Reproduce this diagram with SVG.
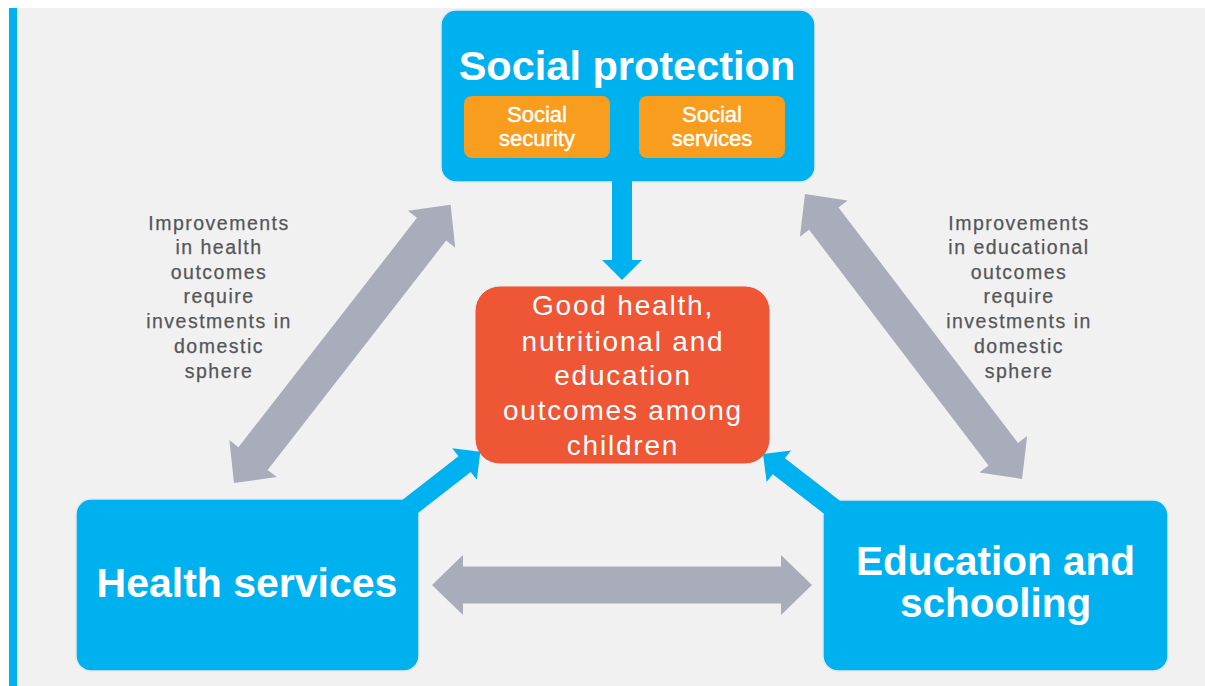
<svg xmlns="http://www.w3.org/2000/svg" width="1205" height="686" viewBox="0 0 1205 686">
  <defs>
    <style>
      .panel { fill: #f1f1f1; }
      .blue-box { fill: #00b1f0; stroke: #e4e8ec; stroke-width: 1.5; }
      .sub-box { fill: #f99d1e; }
      .core-box { fill: #ee5635; stroke: #ececec; stroke-width: 1; }
      .link-blue { fill: #00b1f0; }
      .link-grey { fill: #a9acba; }
      .title { font-family: "Liberation Sans", Arial, sans-serif; font-weight: bold; fill: #ffffff; text-anchor: middle; }
      .sub { font-family: "Liberation Sans", Arial, sans-serif; font-size: 22px; fill: #ffffff; stroke: #ffffff; stroke-width: 0.4px; text-anchor: middle; }
      .core { font-family: "Liberation Sans", Arial, sans-serif; font-size: 28px; letter-spacing: 1.8px; fill: #ffffff; text-anchor: middle; }
      .note { font-family: "Liberation Sans", Arial, sans-serif; font-size: 19.5px; letter-spacing: 1.5px; fill: #555659; stroke: #555659; stroke-width: 0.25px; text-anchor: middle; }
    </style>
    <!-- one-way arrow, tip at origin, pointing along +x -->
    <polygon id="arrowOne" points="0,0 -20,-20 -20,-10 -110,-10 -110,10 -20,10 -20,20"/>
  </defs>

  <!-- page frame -->
  <rect x="0" y="0" width="1205" height="686" fill="#ffffff"/>
  <rect class="panel" x="17" y="8" width="1188" height="678"/>
  <rect x="9" y="8" width="8" height="678" fill="#00b1f0"/>

  <!-- side notes -->
  <g id="note-health">
    <text class="note" x="219" y="230">Improvements</text>
    <text class="note" x="219" y="254">in health</text>
    <text class="note" x="219" y="279">outcomes</text>
    <text class="note" x="219" y="303">require</text>
    <text class="note" x="219" y="328">investments in</text>
    <text class="note" x="219" y="353">domestic</text>
    <text class="note" x="219" y="378">sphere</text>
  </g>
  <g id="note-education">
    <text class="note" x="1019" y="230">Improvements</text>
    <text class="note" x="1019" y="254">in educational</text>
    <text class="note" x="1019" y="279">outcomes</text>
    <text class="note" x="1019" y="303">require</text>
    <text class="note" x="1019" y="328">investments in</text>
    <text class="note" x="1019" y="353">domestic</text>
    <text class="note" x="1019" y="378">sphere</text>
  </g>

  <!-- nodes -->
  <g id="social-protection">
    <rect class="blue-box" x="441" y="10" width="374" height="172" rx="15"/>
    <text class="title" x="627" y="80" font-size="41.5">Social protection</text>
  </g>
  <g id="social-security">
    <rect class="sub-box" x="464" y="96" width="146" height="62" rx="8"/>
    <text class="sub" x="537" y="122">Social</text>
    <text class="sub" x="537" y="146">security</text>
  </g>
  <g id="social-services">
    <rect class="sub-box" x="639" y="96" width="146" height="62" rx="8"/>
    <text class="sub" x="712" y="122">Social</text>
    <text class="sub" x="712" y="146">services</text>
  </g>
  <g id="child-outcomes">
    <rect class="core-box" x="475" y="286" width="295" height="178" rx="25"/>
    <text class="core" x="623" y="315">Good health,</text>
    <text class="core" x="623" y="351">nutritional and</text>
    <text class="core" x="623" y="385">education</text>
    <text class="core" x="623" y="420">outcomes among</text>
    <text class="core" x="623" y="455">children</text>
  </g>
  <g id="health-services">
    <rect class="blue-box" x="76" y="499" width="343" height="172" rx="15"/>
    <text class="title" x="247" y="597" font-size="41">Health services</text>
  </g>
  <g id="education-schooling">
    <rect class="blue-box" x="823" y="500" width="345" height="171" rx="15"/>
    <text class="title" x="995.5" y="575" font-size="40.5">Education and</text>
    <text class="title" x="995.5" y="617" font-size="40.5">schooling</text>
  </g>

  <!-- connectors -->
  <g id="connectors">
    <use href="#arrowOne" class="link-blue" transform="translate(622,280) rotate(90)"/>
    <use href="#arrowOne" class="link-blue" transform="translate(480.3,451.7) rotate(-38)"/>
    <use href="#arrowOne" class="link-blue" transform="translate(763,454) rotate(217.7)"/>
    <!-- two-way arrows between the outer services -->
    <polygon class="link-grey" transform="translate(432,585)" points="0,0 31,-30 31,-18.5 349,-18.5 349,-30 380,0 349,30 349,18.5 31,18.5 31,30"/>
    <polygon class="link-grey" transform="translate(234,483) rotate(-52.1)" points="0,0 31,-30 31,-18.5 321.6,-18.5 321.6,-30 352.6,0 321.6,30 321.6,18.5 31,18.5 31,30"/>
    <polygon class="link-grey" transform="translate(805,194) rotate(52.7)" points="0,0 31,-30 31,-18.5 327.2,-18.5 327.2,-30 358.2,0 327.2,30 327.2,18.5 31,18.5 31,30"/>
  </g>
</svg>
